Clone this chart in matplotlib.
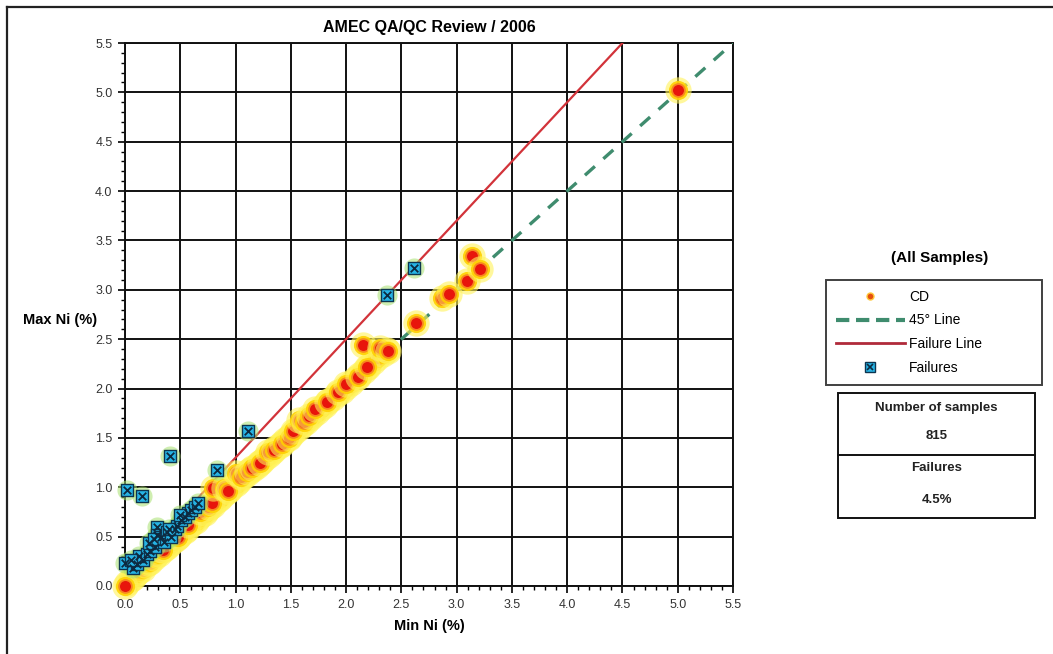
"""
Scatter of duplicate Ni assays (min vs max) with 45 degree and failure lines.
"""

import matplotlib
matplotlib.use("Agg")
import matplotlib.pyplot as plt
from matplotlib.lines import Line2D
from matplotlib.patches import Rectangle
from matplotlib.ticker import MultipleLocator, FormatStrFormatter

plt.rcParams['font.family'] = ['Liberation Sans Narrow', 'Liberation Sans', 'DejaVu Sans']

# Duplicate pairs (min Ni %, max Ni %), lower part of the band first
cd_min = [0.02, 0.05, 0.07, 0.09, 0.11, 0.13, 0.16, 0.18, 0.21, 0.23, 0.26, 0.28,
          0.31, 0.33, 0.36, 0.38, 0.41, 0.43, 0.46, 0.49, 0.51, 0.54, 0.56, 0.59,
          0.61, 0.64, 0.66, 0.69, 0.72, 0.74, 0.77, 0.80, 0.82, 0.85, 0.87, 0.90,
          0.92, 0.95, 0.97, 1.00, 1.03, 1.05, 1.08, 1.11, 1.13, 1.16, 1.19, 1.21,
          1.24, 1.27, 1.30, 1.33, 1.36, 1.39, 1.42, 1.45, 1.48, 1.51, 1.54, 1.57,
          1.60, 1.64, 1.67, 1.70, 1.74, 1.77, 1.81, 1.84, 1.88, 1.92, 1.96, 2.00,
          2.04, 2.08, 2.12, 2.16, 2.20, 2.24, 2.28, 2.33, 2.37,
          0.34, 0.48, 0.57, 0.68, 0.75, 0.79, 0.80, 0.90, 0.93, 1.00, 1.05, 1.10,
          1.15, 1.22, 1.29, 1.35, 1.42, 1.48, 1.52, 1.57, 1.62, 1.66, 1.72, 1.83,
          1.93, 2.00, 2.11, 2.19, 2.15, 2.31, 2.38, 2.63, 2.87, 2.93, 3.09, 3.14,
          3.21, 5.00, 0.00]
cd_max = [0.03, 0.07, 0.08, 0.11, 0.13, 0.15, 0.17, 0.21, 0.23, 0.24, 0.28, 0.31,
          0.32, 0.36, 0.38, 0.40, 0.43, 0.46, 0.48, 0.51, 0.54, 0.56, 0.58, 0.62,
          0.64, 0.66, 0.69, 0.72, 0.74, 0.77, 0.80, 0.82, 0.86, 0.88, 0.90, 0.93,
          0.96, 0.98, 1.01, 1.03, 1.06, 1.09, 1.11, 1.14, 1.17, 1.19, 1.22, 1.25,
          1.27, 1.30, 1.33, 1.36, 1.40, 1.42, 1.45, 1.48, 1.51, 1.54, 1.57, 1.60,
          1.63, 1.66, 1.70, 1.73, 1.76, 1.80, 1.83, 1.87, 1.90, 1.94, 1.98, 2.02,
          2.06, 2.10, 2.14, 2.18, 2.22, 2.27, 2.31, 2.35, 2.39,
          0.36, 0.50, 0.62, 0.75, 0.80, 0.84, 0.99, 0.99, 0.96, 1.14, 1.10, 1.15,
          1.20, 1.25, 1.36, 1.38, 1.44, 1.50, 1.57, 1.68, 1.66, 1.72, 1.79, 1.86,
          1.97, 2.05, 2.12, 2.22, 2.44, 2.41, 2.38, 2.66, 2.92, 2.96, 3.09, 3.34,
          3.21, 5.02, 0.00]

# Pairs failing the precision criterion
fail_min = [0.00, 0.02, 0.15, 0.41, 0.83, 1.11, 2.37, 2.61, 0.07, 0.11, 0.16, 0.13,
            0.20, 0.23, 0.27, 0.22, 0.29, 0.29, 0.33, 0.35, 0.38, 0.42, 0.45, 0.47,
            0.51, 0.54, 0.57, 0.60, 0.63, 0.66, 0.05, 0.26, 0.40, 0.50]
fail_max = [0.23, 0.97, 0.91, 1.32, 1.18, 1.57, 2.95, 3.22, 0.18, 0.22, 0.26, 0.30,
            0.32, 0.35, 0.40, 0.44, 0.60, 0.52, 0.50, 0.45, 0.55, 0.50, 0.58, 0.61,
            0.67, 0.70, 0.74, 0.77, 0.80, 0.84, 0.26, 0.48, 0.58, 0.72]

line45_x = [0.0, 5.5]
line45_y = [0.0, 5.5]
fail_line_x = [0.0, 4.5]
fail_line_y = [0.1, 5.5]

n_samples = 815
fail_pct = "4.5%"

W, H = 1053, 654
fig = plt.figure(figsize=(W / 100, H / 100), dpi=100)
ax = fig.add_axes([125 / W, 1 - 586 / H, (733 - 125) / W, (586 - 43) / H])

# outer frame (top and left edges)
fig.add_artist(Line2D([7 / W, 1.0], [1 - 7 / H, 1 - 7 / H], color='#222222', lw=1.6))
fig.add_artist(Line2D([7 / W, 7 / W], [0.0, 1 - 7 / H], color='#222222', lw=1.6))

ax.plot(line45_x, line45_y, color='#3f8c6e', lw=2.4, dashes=(4, 3.4), zorder=3)
ax.plot(fail_line_x, fail_line_y, color='#d2333a', lw=1.6, zorder=3)

# each sample: soft yellow halo, orange ring, red core
for x, y in zip(cd_min, cd_max):
    ax.scatter([x], [y], s=360, color='#fff35a', alpha=0.6, lw=0, zorder=4, clip_on=False)
    ax.scatter([x], [y], s=190, color='#ffd000', alpha=0.9, lw=0, zorder=4, clip_on=False)
    ax.scatter([x], [y], s=85, color='#e8150c', edgecolors='#f7861f', lw=1.3,
               zorder=4, clip_on=False)

for x, y in zip(fail_min, fail_max):
    ax.scatter([x], [y], s=210, color='#a8e070', alpha=0.55, lw=0, zorder=5, clip_on=False)
for x, y in zip(fail_min, fail_max):
    ax.scatter([x], [y], s=75, marker='s', color='#27b4e6', edgecolors='#0d3550',
               lw=1.0, zorder=6, clip_on=False)
    ax.scatter([x], [y], s=30, marker='x', color='#0d2a40', lw=1.3, zorder=7,
               clip_on=False)

ax.set_xlim(0, 5.5)
ax.set_ylim(0, 5.5)
ax.xaxis.set_major_locator(MultipleLocator(0.5))
ax.yaxis.set_major_locator(MultipleLocator(0.5))
ax.xaxis.set_minor_locator(MultipleLocator(0.1))
ax.yaxis.set_minor_locator(MultipleLocator(0.1))
ax.xaxis.set_major_formatter(FormatStrFormatter('%.1f'))
ax.yaxis.set_major_formatter(FormatStrFormatter('%.1f'))
ax.tick_params(which='major', direction='out', length=5, width=1.2,
               labelsize=9, labelcolor='#333333', pad=4)
ax.tick_params(which='minor', direction='out', length=3, width=1.0)
ax.grid(True, which='major', color='#111111', lw=1.4, zorder=1)
ax.set_axisbelow(True)
for sp in ax.spines.values():
    sp.set_linewidth(1.4)
    sp.set_color('#111111')

ax.set_title('AMEC QA/QC Review / 2006', fontsize=11.5, fontweight='bold', pad=8)
ax.set_xlabel('Min Ni (%)', fontsize=10.5, fontweight='bold', labelpad=6)
fig.text(60 / W, 1 - 320 / H, 'Max Ni (%)', fontsize=10.5, fontweight='bold',
         ha='center', va='center')

# legend block
fig.text(940 / W, 1 - 258 / H, '(All Samples)', fontsize=11, fontweight='bold',
         ha='center', va='center')
h_cd = Line2D([], [], ls='none', marker='o', markersize=5, color='#e5500f',
              markeredgecolor='#ffc83a')
h_45 = Line2D([], [], color='#3f8c6e', lw=3, dashes=(3.2, 1.6))
h_fl = Line2D([], [], color='#b02a3a', lw=2)
h_sq = Line2D([], [], ls='none', marker='s', markersize=7, color='#27b4e6',
              markeredgecolor='#0d3550')
h_x = Line2D([], [], ls='none', marker='x', markersize=5, color='#0d2a40', mew=1.2)
leg = fig.legend([h_cd, h_45, h_fl, (h_sq, h_x)],
                 ['CD', '45° Line', 'Failure Line', 'Failures'],
                 loc='upper left',
                 bbox_to_anchor=(826 / W, 1 - 280 / H, (1042 - 826) / W, 0),
                 mode='expand', fontsize=10, frameon=True, fancybox=False,
                 edgecolor='#111111', handlelength=5.0, handletextpad=0.3,
                 labelspacing=0.7, borderpad=0.7, borderaxespad=0)
leg.get_frame().set_linewidth(1.4)

# stats box
x0, x1, y0, y1, ym = 838, 1035, 393, 518, 455
fig.add_artist(Rectangle((x0 / W, 1 - y1 / H), (x1 - x0) / W, (y1 - y0) / H,
                         fill=False, ec='#111111', lw=1.4))
fig.add_artist(Line2D([x0 / W, x1 / W], [1 - ym / H, 1 - ym / H], color='#111111', lw=1.4))
cx = (x0 + x1) / 2 / W
for ty, txt in [(408, 'Number of samples'), (436, str(n_samples)),
                (468, 'Failures'), (500, fail_pct)]:
    fig.text(cx, 1 - ty / H, txt, fontsize=9.5, fontweight='bold',
             ha='center', va='center', color='#222222')

fig.savefig('out.png', dpi=100)
